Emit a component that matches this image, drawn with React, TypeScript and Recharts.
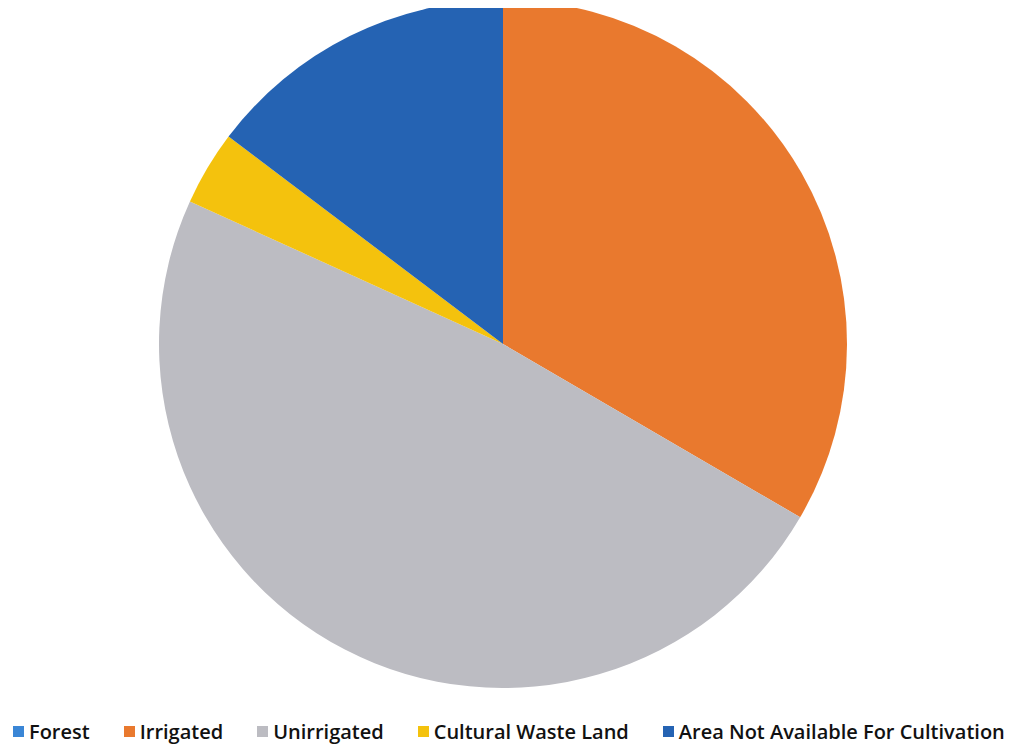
import React from "react";
import { PieChart, Pie, Cell, Legend } from "recharts";

// land use shares (%)
const categories = ["Forest", "Irrigated", "Unirrigated", "Cultural Waste Land", "Area Not Available For Cultivation"];
const shares = [0, 33.4, 48.4, 3.5, 14.7];
const colors = ["#3a86d6", "#e9792e", "#bcbcc2", "#f4c20d", "#2563b3"];

const data = categories.map((name, i) => ({ name, value: shares[i] }));

const renderLegend = () => (
    <div
        style={{
            display: "flex",
            gap: 34,
            paddingLeft: 5,
            fontFamily: "'Open Sans', sans-serif",
            fontSize: 20,
            fontWeight: 600,
            color: "#111",
            alignItems: "center",
            whiteSpace: "nowrap",
        }}
    >
        {categories.map((name, i) => (
            <div key={name} style={{ display: "flex", alignItems: "center", flexShrink: 0 }}>
                <span style={{ display: "inline-block", width: 11, height: 11, background: colors[i], marginRight: 5 }} />
                {name}
            </div>
        ))}
    </div>
);

const App: React.FC = () => {
    return (
        <PieChart width={1008} height={745} margin={{ top: 0, right: 0, left: 0, bottom: 0 }} style={{ overflow: "visible" }}>
            <Pie
                data={data}
                dataKey="value"
                nameKey="name"
                cx={495}
                cy={336}
                outerRadius={344}
                startAngle={90}
                endAngle={-270}
                stroke="none"
                isAnimationActive={false}
            >
                {data.map((d, i) => (
                    <Cell key={d.name} fill={colors[i]} />
                ))}
            </Pie>
            <Legend
                verticalAlign="bottom"
                align="left"
                content={renderLegend}
                wrapperStyle={{ bottom: 8, left: 0, width: 1016, overflow: "visible" }}
            />
        </PieChart>
    );
};

export default App;
